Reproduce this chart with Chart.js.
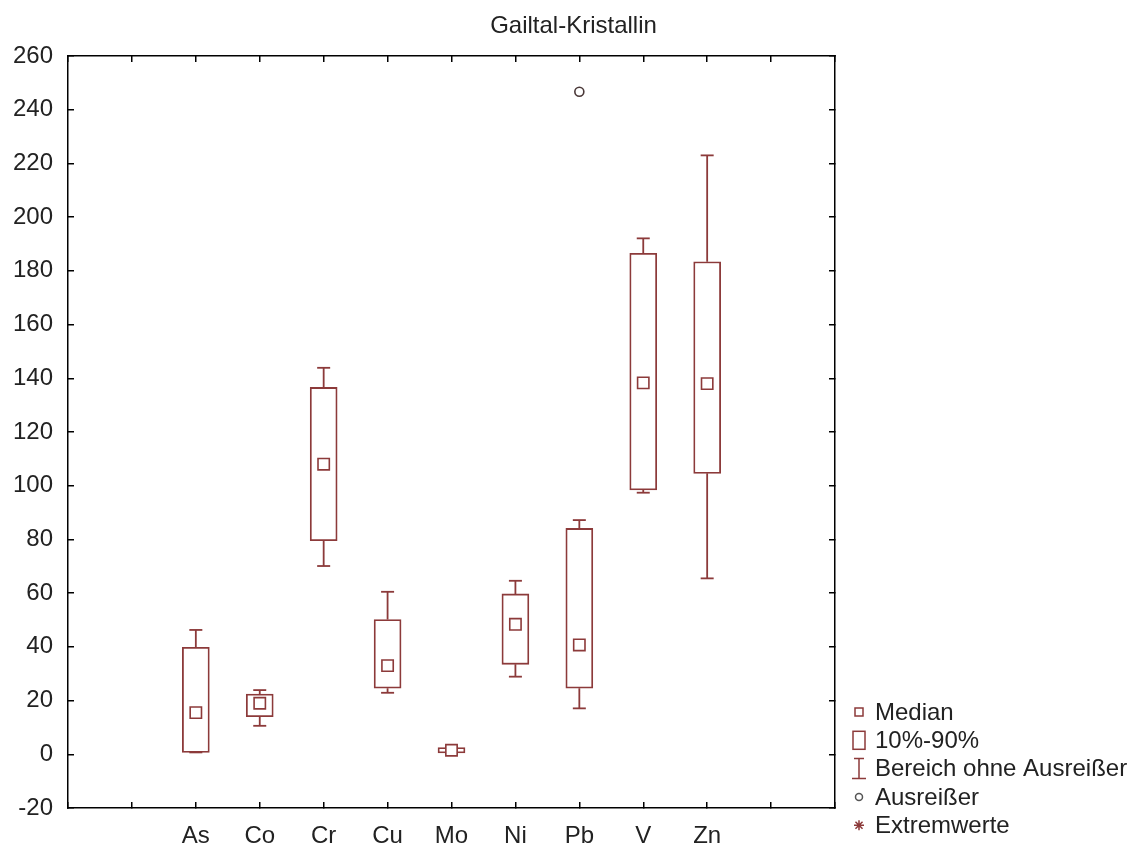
<!DOCTYPE html>
<html>
<head>
<meta charset="utf-8">
<script src="https://cdn.jsdelivr.net/npm/chart.js@4"></script>
<style>
  body { margin: 0; background: #fff; }
</style>
</head>
<body>
<canvas id="myChart" width="1147" height="845"></canvas>
<script>
// Gailtal-Kristallin box plot (median, 10%-90%, range without outliers)
const elements = ['As', 'Co', 'Cr', 'Cu', 'Mo', 'Ni', 'Pb', 'V', 'Zn'];
const median = [15.5, 19, 108, 33, 1.5, 48.4, 40.7, 138.3, 138];
const p10 = [0.7, 14, 79.5, 24.6, 0.5, 33.5, 24.6, 98.4, 104.6];
const p90 = [39.8, 22.4, 136.6, 50.2, 2.5, 59.7, 84.1, 186.5, 183.4];
const rangeLow = [0.7, 10.6, 70.1, 22.9, 0.2, 28.9, 17.1, 97.4, 65.5];
const rangeHigh = [46.3, 23.9, 143.9, 60.5, 2.8, 64.6, 87.2, 192.1, 223];
const outlierElement = ['Pb'];
const outlierValue = [246.7];
const yMin = -20, yMax = 260, yStep = 20;
const legendNames = ['Median', '10%-90%', 'Bereich ohne Ausreißer', 'Ausreißer', 'Extremwerte'];

const boxColor = '#8c3a3a';
const fontFamily = '"Liberation Sans", Arial, sans-serif';
const firstSlot = 2;                  // two empty slots before "As"
const xMax = elements.length + 3;     // and two after "Zn"
const xOf = name => elements.indexOf(name) + firstSlot;

const boxes = elements.map((e, i) => ({x: xOf(e), y: [p10[i], p90[i]]}));
const whiskers = [];
elements.forEach((e, i) => {
    whiskers.push({x: xOf(e), y: rangeHigh[i]}, {x: xOf(e), y: p90[i]}, {x: xOf(e), y: null});
    whiskers.push({x: xOf(e), y: p10[i]}, {x: xOf(e), y: rangeLow[i]}, {x: xOf(e), y: null});
});
const caps = [];
elements.forEach((e, i) => {
    caps.push({x: xOf(e), y: rangeHigh[i]}, {x: xOf(e), y: rangeLow[i]});
});
const medians = elements.map((e, i) => ({x: xOf(e), y: median[i]}));
const outliers = outlierElement.map((e, i) => ({x: xOf(e), y: outlierValue[i]}));

// legend symbols, drawn centred on (x, y)
const legendIcons = [
    (g, x, y) => { g.strokeRect(x - 4, y - 4, 8, 8); },
    (g, x, y) => { g.strokeRect(x - 6, y - 9, 12, 18); },
    (g, x, y) => {
        g.beginPath();
        g.moveTo(x - 5, y - 10); g.lineTo(x + 5, y - 10);
        g.moveTo(x, y - 10); g.lineTo(x, y + 10);
        g.moveTo(x - 7, y + 10); g.lineTo(x + 7, y + 10);
        g.stroke();
    },
    (g, x, y) => { g.strokeStyle = '#555'; g.beginPath(); g.arc(x, y, 3.5, 0, Math.PI * 2); g.stroke(); },
    (g, x, y) => {
        g.beginPath();
        for (let a = 0; a < 4; a++) {
            const r = a * Math.PI / 4;
            g.moveTo(x - 5 * Math.cos(r), y - 5 * Math.sin(r));
            g.lineTo(x + 5 * Math.cos(r), y + 5 * Math.sin(r));
        }
        g.stroke();
    }
];

// the legend sits in the empty space right of the plot, bottom aligned
const sideLegend = {
    id: 'sideLegend',
    afterDraw(chart) {
        const {ctx, chartArea} = chart;
        const iconX = chartArea.right + 24;
        const rowH = 28.3;
        const firstY = chartArea.bottom - 96;
        ctx.save();
        ctx.font = '24px ' + fontFamily;
        ctx.textBaseline = 'middle';
        legendNames.forEach((name, i) => {
            const y = firstY + i * rowH;
            ctx.strokeStyle = boxColor;
            ctx.lineWidth = 1.5;
            legendIcons[i](ctx, iconX, y);
            ctx.fillStyle = '#222';
            ctx.fillText(name, iconX + 16, y + 1);
        });
        ctx.restore();
    }
};

const axisGrid = {drawOnChartArea: false, color: '#000', tickColor: '#000', lineWidth: 1.5, tickLength: -6, offset: false};
const axisBorder = {color: '#000', width: 1.5};

const ctx = document.getElementById('myChart');
new Chart(ctx, {
    type: 'bar',
    data: {
        datasets: [
            {
                type: 'line', label: 'range', data: whiskers, order: 3,
                borderColor: boxColor, borderWidth: 1.8, pointRadius: 0, spanGaps: false
            },
            {
                type: 'bar', label: '10%-90%', data: boxes, order: 2,
                backgroundColor: '#fff', borderColor: boxColor, borderWidth: 1.8,
                borderSkipped: false, barThickness: 27
            },
            {
                type: 'scatter', label: 'caps', data: caps, order: 1,
                pointStyle: 'line', pointRadius: 6.5, borderColor: boxColor, borderWidth: 1.8
            },
            {
                type: 'scatter', label: 'Median', data: medians, order: 0,
                pointStyle: 'rect', pointRadius: 8, backgroundColor: '#fff',
                borderColor: boxColor, borderWidth: 1.6
            },
            {
                type: 'scatter', label: 'Ausreißer', data: outliers, order: 0,
                pointStyle: 'circle', pointRadius: 4.5, backgroundColor: '#fff',
                borderColor: '#4a3838', borderWidth: 1.6
            }
        ]
    },
    options: {
        responsive: false,
        animation: false,
        layout: {padding: 0},
        scales: {
            x: {
                type: 'linear', position: 'bottom', min: 0, max: xMax, offset: false,
                grid: axisGrid, border: axisBorder,
                ticks: {
                    stepSize: 1, autoSkip: false, maxRotation: 0, padding: 19.6,
                    color: '#222', font: {family: fontFamily, size: 24},
                    callback: v => elements[v - firstSlot] || ''
                },
                afterFit: s => { s.height = 37; }
            },
            x2: {
                type: 'linear', position: 'top', min: 0, max: xMax, offset: false,
                grid: axisGrid, border: axisBorder,
                ticks: {stepSize: 1, display: false},
                afterFit: s => { s.height = 0; }
            },
            y: {
                type: 'linear', position: 'left', min: yMin, max: yMax,
                grid: axisGrid, border: axisBorder,
                ticks: {stepSize: yStep, padding: 21, color: '#222', font: {family: fontFamily, size: 24}},
                afterFit: s => { s.width = 68; }
            },
            y2: {
                type: 'linear', position: 'right', min: yMin, max: yMax,
                grid: axisGrid, border: axisBorder,
                ticks: {stepSize: yStep, display: false},
                afterFit: s => { s.width = 312; }
            }
        },
        plugins: {
            title: {
                display: true, text: 'Gailtal-Kristallin', color: '#222',
                font: {family: fontFamily, size: 24, weight: 'normal'},
                padding: {top: 12, bottom: 15.2}
            },
            legend: {display: false},
            tooltip: {enabled: false}
        }
    },
    plugins: [sideLegend]
});
</script>
</body>
</html>
